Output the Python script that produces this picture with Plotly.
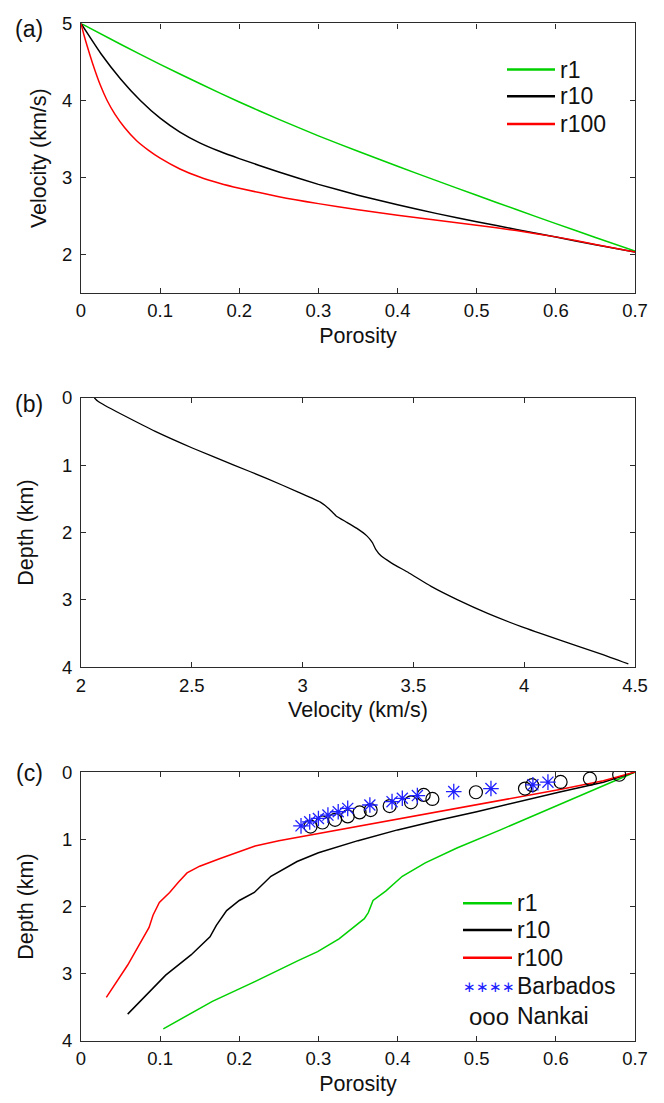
import plotly.graph_objects as go

# ---------------- data ----------------
series_names = ["r1", "r10", "r100"]
series_colors = ["#00d000", "#000000", "#ff0000"]

# (a) velocity vs porosity
r1_a_por = [0, 0.05, 0.1, 0.15, 0.2, 0.25, 0.3, 0.35, 0.4, 0.45, 0.5, 0.55, 0.6, 0.65, 0.7]
r1_a_vel = [5, 4.73, 4.47, 4.22, 3.98, 3.755, 3.54, 3.34, 3.145, 2.955, 2.768, 2.583, 2.40, 2.22, 2.045]

r10_a_por = [0, 0.025, 0.05, 0.075, 0.1, 0.125, 0.15, 0.175, 0.2, 0.25, 0.3, 0.35, 0.4, 0.45, 0.5, 0.55, 0.6, 0.65, 0.7]
r10_a_vel = [5, 4.61, 4.28, 4.00, 3.77, 3.59, 3.45, 3.34, 3.245, 3.07, 2.91, 2.77, 2.645, 2.53, 2.425, 2.325, 2.225, 2.125, 2.03]

r100_a_por = [0, 0.004, 0.008, 0.015, 0.024, 0.033, 0.043, 0.055, 0.07, 0.085, 0.1, 0.125, 0.15, 0.175, 0.2, 0.25,
              0.3, 0.35, 0.4, 0.45, 0.5, 0.55, 0.6, 0.65, 0.7]
r100_a_vel = [5, 4.84, 4.70, 4.47, 4.21, 4.00, 3.82, 3.65, 3.48, 3.355, 3.25, 3.11, 3.005, 2.925, 2.86, 2.75,
              2.66, 2.58, 2.51, 2.445, 2.38, 2.31, 2.228, 2.13, 2.03]

# (b) depth vs velocity
b_dep = [0.0, 0.05, 0.12, 0.25, 0.5, 0.75, 1.0, 1.2, 1.4, 1.55, 1.65, 1.75, 1.85, 1.95, 2.05, 2.15, 2.25,
         2.35, 2.45, 2.6, 2.8, 3.0, 3.2, 3.4, 3.6, 3.8, 3.95]
b_vel = [2.06, 2.075, 2.11, 2.185, 2.335, 2.505, 2.69, 2.84, 2.98, 3.08, 3.12, 3.15, 3.20, 3.25, 3.29, 3.315, 3.33,
         3.355, 3.40, 3.48, 3.58, 3.70, 3.835, 3.99, 4.165, 4.345, 4.47]

# (c) depth vs porosity
r1_c_por = [0.70, 0.645, 0.59, 0.53, 0.475, 0.435, 0.406, 0.385, 0.369, 0.363, 0.358, 0.342, 0.326, 0.299, 0.275, 0.219, 0.166, 0.104]
r1_c_dep = [0.00, 0.28, 0.56, 0.86, 1.13, 1.35, 1.55, 1.77, 1.91, 2.09, 2.18, 2.33, 2.48, 2.67, 2.80, 3.12, 3.41, 3.82]

r10_c_por = [0.70, 0.66, 0.605, 0.55, 0.50, 0.45, 0.40, 0.35, 0.315, 0.30, 0.273, 0.24, 0.219, 0.20, 0.184, 0.171, 0.163, 0.139, 0.107, 0.059]
r10_c_dep = [0.00, 0.15, 0.295, 0.45, 0.59, 0.72, 0.86, 1.02, 1.153, 1.20, 1.33, 1.55, 1.79, 1.91, 2.06, 2.28, 2.45, 2.72, 3.02, 3.60]

r100_c_por = [0.70, 0.66, 0.605, 0.50, 0.40, 0.30, 0.25, 0.22, 0.20, 0.175, 0.15, 0.134, 0.123, 0.112, 0.099, 0.091, 0.086, 0.059, 0.032]
r100_c_dep = [0.00, 0.13, 0.26, 0.485, 0.70, 0.915, 1.02, 1.10, 1.18, 1.29, 1.40, 1.50, 1.64, 1.79, 1.94, 2.13, 2.31, 2.87, 3.35]

barbados_por = [0.278, 0.289, 0.300, 0.312, 0.325, 0.337, 0.365, 0.393, 0.406, 0.425, 0.471, 0.518, 0.571, 0.590]
barbados_dep = [0.80, 0.74, 0.69, 0.64, 0.59, 0.54, 0.49, 0.44, 0.39, 0.35, 0.29, 0.245, 0.19, 0.15]

nankai_por = [0.290, 0.305, 0.321, 0.337, 0.352, 0.366, 0.390, 0.417, 0.433, 0.444, 0.499, 0.561, 0.570, 0.606, 0.643, 0.680]
nankai_dep = [0.81, 0.75, 0.71, 0.66, 0.60, 0.565, 0.505, 0.45, 0.34, 0.40, 0.30, 0.245, 0.195, 0.147, 0.098, 0.04]

por_ticks = [0, 0.1, 0.2, 0.3, 0.4, 0.5, 0.6, 0.7]
por_ticktext = ["0", "0.1", "0.2", "0.3", "0.4", "0.5", "0.6", "0.7"]
vel_a_ticks = [2, 3, 4, 5]
vel_b_ticks = [2, 2.5, 3, 3.5, 4, 4.5]
vel_b_ticktext = ["2", "2.5", "3", "3.5", "4", "4.5"]
dep_ticks = [0, 1, 2, 3, 4]

panel_labels = ["(a)", "(b)", "(c)"]
marker_names = ["Barbados", "Nankai"]

# ---------------- layout helpers ----------------
W, H = 664, 1103
ML, MR, MT, MB = 81, 29, 16, 60
PW, PH = W - ML - MR, H - MT - MB


def px(xp):
    return (xp - ML) / PW


def py(yp):
    return (H - MB - yp) / PH


def dom(top, bottom):
    return [max(0.0, py(bottom)), min(1.0, py(top))]


FONT = "Liberation Sans, Arial, sans-serif"
AX = "#2b2b2b"
TXT = "#111111"
BLUE = "#2020ff"

fig = go.Figure()

a_sets = [(r1_a_por, r1_a_vel), (r10_a_por, r10_a_vel), (r100_a_por, r100_a_vel)]
for (xs, ys), nm, col in zip(a_sets, series_names, series_colors):
    fig.add_trace(go.Scatter(x=xs, y=ys, mode="lines", name=nm,
                             line=dict(color=col, width=1.5, shape="spline", smoothing=0.5),
                             xaxis="x", yaxis="y", showlegend=False))

fig.add_trace(go.Scatter(x=b_vel, y=b_dep, mode="lines", name="velocity",
                         line=dict(color="#000000", width=1.3, shape="spline", smoothing=0.5),
                         xaxis="x2", yaxis="y2", showlegend=False))

c_sets = [(r1_c_por, r1_c_dep), (r10_c_por, r10_c_dep), (r100_c_por, r100_c_dep)]
for (xs, ys), nm, col in zip(c_sets, series_names, series_colors):
    fig.add_trace(go.Scatter(x=xs, y=ys, mode="lines", name=nm, line=dict(color=col, width=1.5),
                             xaxis="x3", yaxis="y3", showlegend=False))

fig.add_trace(go.Scatter(x=nankai_por, y=nankai_dep, mode="markers", name=marker_names[1],
                         marker=dict(symbol="circle-open", size=13, color="#000000", line=dict(width=1.2, color="#000000")),
                         xaxis="x3", yaxis="y3", showlegend=False))
fig.add_trace(go.Scatter(x=barbados_por, y=barbados_dep, mode="markers", name=marker_names[0],
                         marker=dict(symbol="asterisk-open", size=13, color=BLUE, line=dict(width=1.3, color=BLUE)),
                         xaxis="x3", yaxis="y3", showlegend=False))

axis_common = dict(showgrid=False, zeroline=False, showline=True, linecolor=AX, linewidth=1.2, mirror="ticks",
                   ticks="inside", ticklen=5, tickwidth=1, tickcolor=AX,
                   tickfont=dict(family=FONT, size=18.5, color=TXT))
title_font = dict(family=FONT, size=21.5, color=TXT)

fig.update_layout(
    width=W, height=H, margin=dict(l=ML, r=MR, t=MT, b=MB), autosize=False,
    paper_bgcolor="white", plot_bgcolor="white", showlegend=False,
    xaxis=dict(axis_common, domain=[0, 1], range=[0, 0.7], tickvals=por_ticks, ticktext=por_ticktext, anchor="y",
               ticklabelstandoff=1, title=dict(text="Porosity", font=title_font, standoff=7)),
    yaxis=dict(axis_common, domain=dom(16.5, 288.3), range=[1.5, 5], tickvals=vel_a_ticks, anchor="x",
               ticklabelstandoff=4, title=dict(text="Velocity (km/s)", font=title_font, standoff=9)),
    xaxis2=dict(axis_common, domain=[0, 1], range=[2, 4.5], tickvals=vel_b_ticks, ticktext=vel_b_ticktext, anchor="y2",
                ticklabelstandoff=1, title=dict(text="Velocity (km/s)", font=title_font, standoff=7)),
    yaxis2=dict(axis_common, domain=dom(394, 666), range=[4, 0], tickvals=dep_ticks, anchor="x2",
                ticklabelstandoff=4, title=dict(text="Depth (km)", font=title_font, standoff=22)),
    xaxis3=dict(axis_common, domain=[0, 1], range=[0, 0.7], tickvals=por_ticks, ticktext=por_ticktext, anchor="y3",
                ticklabelstandoff=1, title=dict(text="Porosity", font=title_font, standoff=7)),
    yaxis3=dict(axis_common, domain=dom(771.7, 1043), range=[4, 0], tickvals=dep_ticks, anchor="x3",
                ticklabelstandoff=4, title=dict(text="Depth (km)", font=title_font, standoff=22)),
)

# panel labels
label_y = [22, 400, 773]
for lab, yy in zip(panel_labels, label_y):
    fig.add_annotation(text=lab, xref="paper", yref="paper", x=px(29), y=py(yy), showarrow=False,
                       xanchor="center", yanchor="middle", font=dict(family=FONT, size=23, color=TXT))

LEG_FS = 23

# legend (a)
leg_a_rows = [63, 90, 118]
for nm, col, yy in zip(series_names, series_colors, leg_a_rows):
    fig.add_shape(type="line", xref="paper", yref="paper", x0=px(507), x1=px(555), y0=py(yy), y1=py(yy),
                  line=dict(color=col, width=2.5))
    fig.add_annotation(text=nm, xref="paper", yref="paper", x=px(559), y=py(yy), showarrow=False, borderpad=0,
                       xanchor="left", yanchor="middle", font=dict(family=FONT, size=LEG_FS, color=TXT))

# legend (c)
leg_c_rows = [904, 931, 959]
for nm, col, yy in zip(series_names, series_colors, leg_c_rows):
    fig.add_shape(type="line", xref="paper", yref="paper", x0=px(463), x1=px(512), y0=py(yy), y1=py(yy),
                  line=dict(color=col, width=2.5))
    fig.add_annotation(text=nm, xref="paper", yref="paper", x=px(516), y=py(yy), showarrow=False, borderpad=0,
                       xanchor="left", yanchor="middle", font=dict(family=FONT, size=LEG_FS, color=TXT))

sym_rows = [(988, "∗∗∗∗", BLUE, marker_names[0], 15), (1018, "ooo", TXT, marker_names[1], 24)]
for yy, sym, col, nm, fs in sym_rows:
    fig.add_annotation(text=sym, xref="paper", yref="paper", x=px(489), y=py(yy), showarrow=False, borderpad=0,
                       xanchor="center", yanchor="middle", font=dict(family=FONT, size=fs, color=col))
    fig.add_annotation(text=nm, xref="paper", yref="paper", x=px(516), y=py(yy), showarrow=False, borderpad=0,
                       xanchor="left", yanchor="middle", font=dict(family=FONT, size=LEG_FS, color=TXT))

fig.write_html("out.html")
